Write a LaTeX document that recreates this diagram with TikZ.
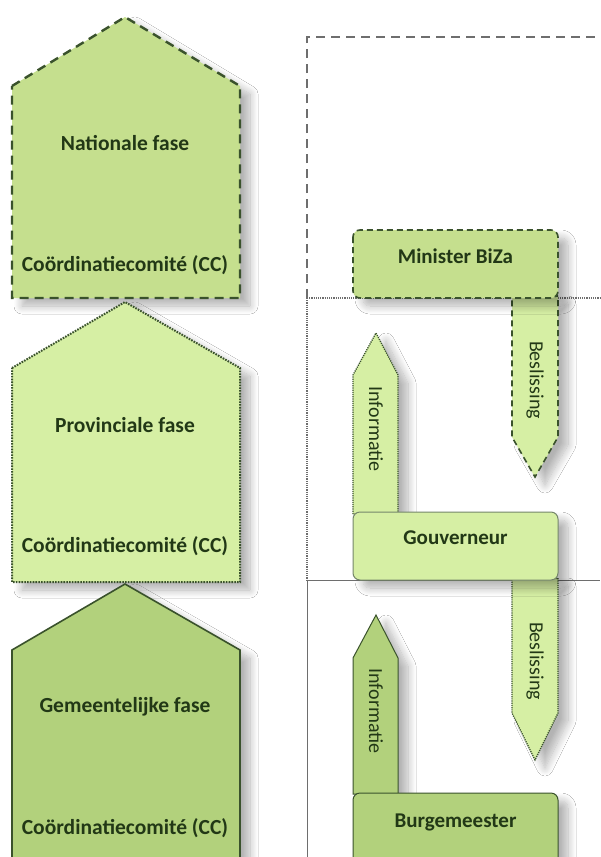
\documentclass[tikz,border=0pt]{standalone}
\usepackage{fontspec}
\setmainfont{Carlito}
\usetikzlibrary{shadows.blur}
\definecolor{natfill}{RGB}{197,223,142}
\definecolor{provfill}{RGB}{214,239,164}
\definecolor{gemfill}{RGB}{178,209,124}
\definecolor{edgegreen}{RGB}{58,82,44}
\definecolor{txtgreen}{RGB}{34,56,22}
\definecolor{framegray}{RGB}{110,110,110}
\tikzset{
  shade/.style={blur shadow={shadow xshift=10pt,shadow yshift=-8pt,shadow blur steps=12,shadow opacity=30,shadow blur radius=8pt}},
  natline/.style={draw=edgegreen,line width=2.4pt,dash pattern=on 9pt off 6pt},
  provline/.style={draw=edgegreen,line width=2pt,dash pattern=on 1.6pt off 1.2pt},
  gemline/.style={draw=edgegreen,line width=1.6pt},
  natsmall/.style={draw=edgegreen,line width=1.6pt,dash pattern=on 6pt off 4pt},
  provsmall/.style={draw=edgegreen,line width=1.3pt,dash pattern=on 1.2pt off 1pt},
  gemsmall/.style={draw=edgegreen,line width=1pt},
  phasetext/.style={font=\fontsize{21.5}{24}\selectfont\bfseries,text=txtgreen},
  boxtext/.style={font=\fontsize{21}{24}\selectfont\bfseries,text=txtgreen},
  arrowtext/.style={font=\fontsize{20}{22}\selectfont,text=txtgreen,rotate=-90},
  framedash/.style={draw=framegray,line width=1.6pt,dash pattern=on 9pt off 6pt},
  framedot/.style={draw=framegray,line width=1.2pt,dash pattern=on 1.2pt off 1pt},
  framesolid/.style={draw=framegray,line width=1pt},
}
\begin{document}
\begin{tikzpicture}[x=1pt,y=-1pt]
\useasboundingbox (0,0) rectangle (600,857);
\fill[white] (0,0) rectangle (600,857);
% frame on the right
\draw[framedash] (307,298) -- (307,37) -- (600,37);
\draw[framedot] (307,298) -- (600,298);
\draw[framedot] (307,298) -- (307,580);
\draw[framesolid] (307,580) -- (600,580);
\draw[framesolid] (307,580) -- (307,857);
% phase pentagons
\path[shade,fill=natfill,natline] (12,86) -- (125,17) -- (240,86) -- (240,298) -- (12,298) -- cycle;
\path[shade,fill=provfill,provline] (12,368) -- (125,302) -- (240,368) -- (240,582) -- (12,582) -- cycle;
\path[shade,fill=gemfill,gemline] (12,650) -- (125,584) -- (240,650) -- (240,880) -- (12,880) -- cycle;
\node[phasetext] (natname) at (125,143) {Nationale fase};
\node[phasetext] (natcc) at (125,265) {Coördinatiecomité (CC)};
\node[phasetext] (provname) at (125,425) {Provinciale fase};
\node[phasetext] (provcc) at (125,546) {Coördinatiecomité (CC)};
\node[phasetext] (gemname) at (125,707) {Gemeentelijke fase};
\node[phasetext] (gemcc) at (125,828) {Coördinatiecomité (CC)};
% national level
\path[shade,fill=provfill,natsmall] (512,296) -- (558,296) -- (558,437) -- (535,477) -- (512,437) -- cycle;
\path[shade,fill=natfill,natsmall,rounded corners=7pt] (353,230) rectangle (558,298);
\node[boxtext] (minister) at (455.5,256) {Minister BiZa};
\node[arrowtext] (besl1) at (535,380) {Beslissing};
% provincial level
\path[shade,fill=provfill,provsmall] (353,514) -- (353,375) -- (376,333) -- (398,375) -- (398,514) -- cycle;
\path[shade,fill=provfill,provsmall] (512,578) -- (558,578) -- (558,713) -- (535,760) -- (512,713) -- cycle;
\path[shade,fill=provfill,gemsmall,draw=edgegreen!70,rounded corners=7pt] (353,512) rectangle (558,580);
\node[boxtext] (gouverneur) at (455.5,538) {Gouverneur};
\node[arrowtext] (info1) at (376,429) {Informatie};
\node[arrowtext] (besl2) at (535,661) {Beslissing};
% municipal level
\path[shade,fill=gemfill,gemsmall] (353,794) -- (353,658) -- (376,615) -- (398,658) -- (398,794) -- cycle;
\path[shade,fill=gemfill,gemsmall,rounded corners=7pt] (353,793) rectangle (558,880);
\node[boxtext] (burgemeester) at (455.5,822) {Burgemeester};
\node[arrowtext] (info2) at (376,711) {Informatie};
\end{tikzpicture}
\end{document}
